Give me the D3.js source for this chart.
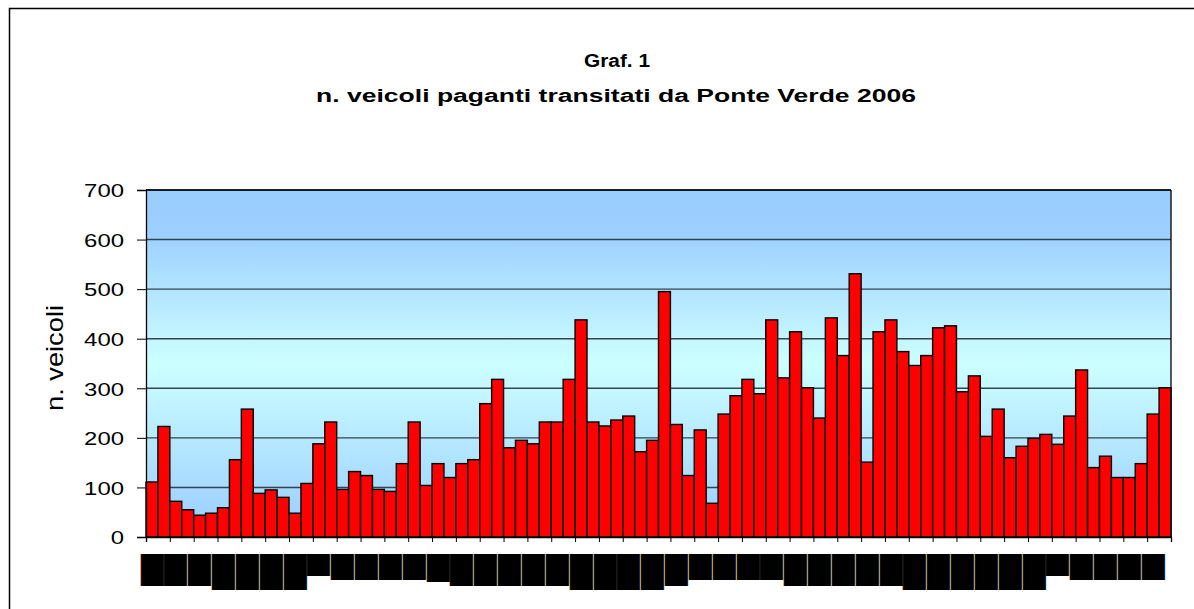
<!DOCTYPE html>
<html>
<head>
<meta charset="utf-8">
<script src="https://cdn.jsdelivr.net/npm/d3@7"></script>
<style>
  body { margin: 0; background: #fff; }
  svg { display: block; font-family: "Liberation Sans", Arial, sans-serif; }
</style>
</head>
<body>
<svg id="chart"></svg>
<script>
// valori settimanali
const veicoli = [
  111, 223, 72, 55, 44, 48, 59, 156, 258, 88,
  95, 80, 48, 108, 188, 232, 96, 132, 124, 96,
  92, 148, 232, 104, 148, 120, 148, 156, 269, 318,
  180, 195, 188, 232, 232, 318, 438, 232, 224, 236,
  244, 172, 195, 495, 227, 124, 216, 68, 248, 285,
  318, 289, 438, 321, 414, 301, 240, 442, 366, 531,
  151, 414, 438, 374, 346, 366, 422, 426, 293, 325,
  203, 258, 160, 183, 199, 207, 187, 244, 337, 140,
  163, 120, 120, 148, 248, 301
];
const yTicks = [0, 100, 200, 300, 400, 500, 600, 700];
// etichette asse x illeggibili (blocchi neri), una ogni due categorie
const labelChars = [
  16, 16, 16, 18, 18, 18, 18, 11, 13, 13,
  13, 13, 14, 16, 16, 16, 16, 16, 18, 18,
  18, 18, 16, 13, 13, 13, 13, 16, 16, 16,
  16, 16, 18, 18, 18, 18, 18, 18, 11, 13,
  13, 13, 13
];
const titolo = "Graf. 1";
const sottotitolo = "n. veicoli paganti transitati da Ponte Verde 2006";
const yTitolo = "n. veicoli";

const W = 1194, H = 609;
const plot = { left: 146, right: 1171, top: 190, bottom: 537 };

const svg = d3.select("#chart").attr("width", W).attr("height", H);

// cornice esterna
svg.append("rect")
  .attr("x", 9.5).attr("y", 8.5)
  .attr("width", W + 20).attr("height", H + 20)
  .attr("fill", "#fff").attr("stroke", "#000").attr("stroke-width", 1.5);

// sfumatura area del grafico
const grad = svg.append("defs").append("linearGradient")
  .attr("id", "sfondo").attr("x1", 0).attr("y1", 0).attr("x2", 0).attr("y2", 1);
grad.append("stop").attr("offset", "0%").attr("stop-color", "#99ccff");
grad.append("stop").attr("offset", "12%").attr("stop-color", "#9dcfff");
grad.append("stop").attr("offset", "50%").attr("stop-color", "#ccffff");
grad.append("stop").attr("offset", "100%").attr("stop-color", "#99ccff");

const x = d3.scaleBand()
  .domain(d3.range(veicoli.length))
  .range([plot.left, plot.right])
  .padding(0);
const xEdge = d3.scaleLinear()
  .domain([0, veicoli.length])
  .range([plot.left, plot.right]);
const y = d3.scaleLinear().domain([0, 700]).range([plot.bottom, plot.top]);

svg.append("rect")
  .attr("x", plot.left).attr("y", plot.top)
  .attr("width", plot.right - plot.left).attr("height", plot.bottom - plot.top)
  .attr("fill", "url(#sfondo)");

// griglia orizzontale
svg.append("g")
  .selectAll("line")
  .data(yTicks.slice(1))
  .join("line")
  .attr("x1", plot.left).attr("x2", plot.right)
  .attr("y1", d => y(d)).attr("y2", d => y(d))
  .attr("stroke", "#26323d").attr("stroke-width", 1.4).attr("opacity", 0.9);

// barre
svg.append("g")
  .selectAll("rect")
  .data(veicoli)
  .join("rect")
  .attr("x", (d, i) => x(i))
  .attr("y", d => y(d))
  .attr("width", x.bandwidth())
  .attr("height", d => y(0) - y(d))
  .attr("fill", "#ff0000")
  .attr("stroke", "#000")
  .attr("stroke-width", 1.4);

// bordo area
svg.append("line")
  .attr("x1", plot.right).attr("x2", plot.right)
  .attr("y1", plot.top).attr("y2", plot.bottom)
  .attr("stroke", "#000").attr("stroke-width", 1.3);
svg.append("line")
  .attr("x1", plot.left).attr("x2", plot.right)
  .attr("y1", plot.top).attr("y2", plot.top)
  .attr("stroke", "#000").attr("stroke-width", 1.3);

// asse Y
const yAxis = svg.append("g")
  .attr("transform", `translate(${plot.left},0)`)
  .call(d3.axisLeft(y).tickValues(yTicks).tickSize(9).tickPadding(13));
yAxis.select(".domain").attr("stroke", "#000").attr("stroke-width", 1.3);
yAxis.selectAll(".tick line").attr("stroke", "#000");
yAxis.selectAll(".tick text")
  .attr("fill", "#000")
  .style("font-family", '"Liberation Sans", Arial, sans-serif')
  .style("font-size", "19px")
  .attr("dy", "0.36em")
  .attr("textLength", d => String(d).length * 13.3)
  .attr("lengthAdjust", "spacingAndGlyphs");

// asse X
const xAxis = svg.append("g")
  .attr("transform", `translate(0,${plot.bottom})`)
  .call(d3.axisBottom(xEdge).tickValues(d3.range(0, veicoli.length + 1, 2)).tickSize(5).tickFormat(""));
xAxis.select(".domain").attr("stroke", "#000").attr("stroke-width", 1.3);
xAxis.selectAll(".tick line").attr("stroke", "#000");

// etichette categorie
svg.append("g")
  .selectAll("text")
  .data(labelChars)
  .join("text")
  .attr("transform", (d, i) => `translate(${x(i * 2) + x.bandwidth() / 2},554) rotate(-90)`)
  .attr("text-anchor", "end")
  .attr("dy", "0.35em")
  .style("font-family", '"DejaVu Sans"')
  .style("font-size", "19px")
  .attr("textLength", d => d * 2)
  .attr("lengthAdjust", "spacingAndGlyphs")
  .attr("fill", "#000")
  .attr("stroke", "#000")
  .attr("stroke-width", 0.6)
  .text(d => "\u2588".repeat(d));

// titoli
svg.append("text")
  .attr("x", 617).attr("y", 67)
  .attr("text-anchor", "middle")
  .style("font-weight", "bold").style("font-size", "18px")
  .attr("textLength", 66).attr("lengthAdjust", "spacingAndGlyphs")
  .text(titolo);
svg.append("text")
  .attr("x", 616).attr("y", 102)
  .attr("text-anchor", "middle")
  .style("font-weight", "bold").style("font-size", "18px")
  .attr("textLength", 600).attr("lengthAdjust", "spacingAndGlyphs")
  .text(sottotitolo);

svg.append("text")
  .attr("transform", "translate(63,358) rotate(-90)")
  .attr("text-anchor", "middle")
  .style("font-size", "24px")
  .attr("textLength", 106).attr("lengthAdjust", "spacingAndGlyphs")
  .text(yTitolo);
</script>
</body>
</html>
